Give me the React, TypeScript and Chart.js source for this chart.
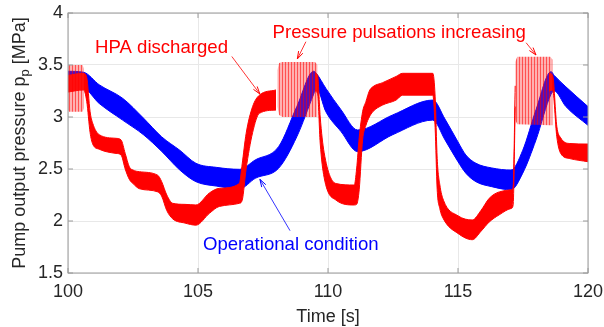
import React, { useEffect, useRef } from "react";
import { Chart, registerables } from "chart.js";
Chart.register(...registerables);

const xTicks = [100, 105, 110, 115, 120];
const yTicks = [1.5, 2, 2.5, 3, 3.5, 4];

// Operational condition (blue band)
const blueTime = [100.0, 100.6, 101.2, 102.1, 102.9, 103.6, 104.3, 104.92, 105.7, 106.6, 107.2, 108.1, 108.8, 109.45, 109.55, 109.92, 110.5, 111.14, 112.49, 114.03, 114.5, 115.0, 115.3, 115.69, 116.3, 117.04, 117.49, 118.0, 118.58, 118.7, 119.15, 120.0];
const blueUpper = [3.44, 3.43, 3.31, 3.18, 2.99, 2.81, 2.68, 2.555, 2.516, 2.497, 2.587, 2.715, 3.10, 3.44, 3.42, 3.275, 3.07, 2.875, 3.02, 3.163, 2.98, 2.76, 2.635, 2.555, 2.51, 2.49, 2.68, 3.07, 3.436, 3.40, 3.29, 3.10];
const blueLower = [3.25, 3.27, 3.13, 2.97, 2.83, 2.67, 2.49, 2.378, 2.336, 2.31, 2.41, 2.507, 2.81, 3.22, 3.28, 3.05, 2.86, 2.667, 2.83, 2.97, 2.78, 2.57, 2.46, 2.378, 2.33, 2.30, 2.46, 2.78, 3.22, 3.25, 3.10, 2.92];

// HPA discharged (red band); null = hidden under the pulsation envelope
const redTime = [100.0, 100.6, 100.72, 100.85, 100.95, 101.2, 101.85, 102.04, 102.2, 102.36, 102.5, 102.75, 103.45, 103.6, 103.8, 104.03, 104.5, 104.92, 105.44, 105.82, 106.59, 106.7, 106.85, 107.1, 107.36, 108.0, 108.8, 109.5, 109.6, 109.7, 109.85, 110.31, 111.01, 111.1, 111.2, 111.33, 111.46, 111.59, 111.72, 112.1, 112.62, 112.87, 114.03, 114.12, 114.2, 114.3, 114.44, 115.0, 115.55, 115.88, 116.2, 116.59, 117.04, 117.12, 117.2, 117.3, 118.5, 118.64, 118.8, 118.95, 119.3, 120.0];
const redUpper = [3.40, 3.42, 3.38, 3.05, 2.94, 2.83, 2.795, 2.78, 2.65, 2.52, 2.49, 2.474, 2.44, 2.38, 2.25, 2.17, 2.16, 2.154, 2.27, 2.314, 2.36, 2.55, 2.84, 3.10, 3.21, 3.26, null, 3.42, 3.40, 3.00, 2.66, 2.36, 2.346, 2.50, 2.80, 3.05, 3.15, 3.25, 3.29, 3.33, 3.39, 3.42, 3.42, 3.20, 2.60, 2.35, 2.20, 2.05, 2.01, 2.10, 2.218, 2.28, 2.30, 2.32, 3.30, null, 3.42, 3.40, 2.91, 2.80, 2.745, 2.74];
const redLower = [3.24, 3.26, 3.15, 2.85, 2.74, 2.69, 2.65, 2.635, 2.50, 2.40, 2.36, 2.31, 2.28, 2.24, 2.10, 2.02, 1.98, 1.96, 2.074, 2.14, 2.17, 2.20, 2.50, 2.85, 3.035, 3.067, null, 3.25, 3.22, 2.75, 2.42, 2.20, 2.154, 2.16, 2.30, 2.78, 2.92, 3.00, 3.05, 3.115, 3.163, 3.21, 3.21, 2.90, 2.30, 2.12, 2.02, 1.88, 1.82, 1.90, 1.99, 2.06, 2.12, 2.15, 3.10, null, 3.25, 3.26, 2.81, 2.65, 2.60, 2.57];

// Pressure pulsation envelopes
const puls1Time = [100.0, 100.04, 100.56, 100.62];
const puls1Top = [3.49, 3.50, 3.50, 3.46];
const puls1Bottom = [3.07, 3.05, 3.05, 3.09];
const puls2Time = [108.05, 108.12, 108.25, 109.5, 109.6];
const puls2Top = [3.45, 3.52, 3.53, 3.53, 3.50];
const puls2Bottom = [3.10, 3.02, 3.00, 3.00, 3.00];
const puls3Time = [117.2, 117.28, 118.55, 118.64];
const puls3Top = [3.53, 3.58, 3.58, 3.55];
const puls3Bottom = [2.97, 2.93, 2.92, 2.92];

const RED = "#ff0000";
const BLUE = "#0000ff";
const FONT = "'Liberation Sans', Arial, Helvetica, sans-serif";
const TEXT = "#262626";

const labels = [
  { text: "HPA discharged", x: 101.04, y: 3.618, color: RED },
  { text: "Pressure pulsations increasing", x: 107.87, y: 3.757, color: RED },
  { text: "Operational condition", x: 105.19, y: 1.721, color: BLUE },
];
const arrows = [
  { from: [106.3, 3.582], to: [107.38, 3.221], color: RED },
  { from: [109.15, 3.724], to: [108.82, 3.558], color: RED },
  { from: [117.62, 3.714], to: [118.0, 3.596], color: RED },
  { from: [108.54, 1.907], to: [107.38, 2.401], color: BLUE },
];

const pts = (t: number[], v: (number | null)[]) => t.map((x, i) => ({ x, y: v[i] }));

export default function App() {
  const ref = useRef<HTMLCanvasElement>(null);
  useEffect(() => {
    document.body.style.margin = "0";
    const canvas = ref.current!;
    const pc = document.createElement("canvas");
    pc.width = 3;
    pc.height = 4;
    const pctx = pc.getContext("2d")!;
    pctx.fillStyle = "rgba(255,40,40,0.36)";
    pctx.fillRect(0, 0, 3, 4);
    pctx.fillStyle = "rgba(255,0,0,0.55)";
    pctx.fillRect(0, 0, 1, 4);
    const pattern = canvas.getContext("2d")!.createPattern(pc, "repeat")!;

    const band = (t: number[], up: (number | null)[], lo: (number | null)[], color: string, order: number) => [
      {
        data: pts(t, up),
        borderColor: color,
        borderWidth: 1,
        pointRadius: 0,
        cubicInterpolationMode: "monotone",
        spanGaps: false,
        fill: false,
        order,
      },
      {
        data: pts(t, lo),
        borderColor: color,
        borderWidth: 1,
        pointRadius: 0,
        cubicInterpolationMode: "monotone",
        spanGaps: false,
        backgroundColor: color,
        fill: "-1",
        order,
      },
    ];
    const puls = (t: number[], up: number[], lo: number[]) => [
      { data: pts(t, up), borderWidth: 0, borderColor: "rgba(0,0,0,0)", pointRadius: 0, fill: false, order: 0 },
      { data: pts(t, lo), borderWidth: 0, borderColor: "rgba(0,0,0,0)", pointRadius: 0, backgroundColor: pattern, fill: "-1", order: 0 },
    ];

    const decor = {
      id: "decor",
      afterDraw(chart: any) {
        const { ctx, chartArea: a, scales } = chart;
        const xs = scales.x, ys = scales.y;
        ctx.save();
        ctx.strokeStyle = "#9a9a9a";
        ctx.lineWidth = 1;
        ctx.strokeRect(a.left, a.top, a.right - a.left, a.bottom - a.top);
        ctx.beginPath();
        xTicks.forEach((v) => {
          const px = xs.getPixelForValue(v);
          ctx.moveTo(px, a.bottom); ctx.lineTo(px, a.bottom - 5);
          ctx.moveTo(px, a.top); ctx.lineTo(px, a.top + 5);
        });
        yTicks.forEach((v) => {
          const py = ys.getPixelForValue(v);
          ctx.moveTo(a.left, py); ctx.lineTo(a.left + 5, py);
          ctx.moveTo(a.right, py); ctx.lineTo(a.right - 5, py);
        });
        ctx.stroke();
        ctx.fillStyle = TEXT;
        ctx.font = `18px ${FONT}`;
        ctx.textAlign = "center";
        ctx.textBaseline = "alphabetic";
        ctx.fillText("Time [s]", (a.left + a.right) / 2, 321.5);
        const p1 = "Pump output pressure p";
        const sub = "p";
        const p2 = " [MPa]";
        ctx.font = `18px ${FONT}`;
        const w1 = ctx.measureText(p1).width;
        const w3 = ctx.measureText(p2).width;
        ctx.font = `13px ${FONT}`;
        const w2 = ctx.measureText(sub).width;
        const total = w1 + w2 + w3;
        ctx.translate(25, (a.top + a.bottom) / 2);
        ctx.rotate(-Math.PI / 2);
        ctx.textAlign = "left";
        let sx = -total / 2;
        ctx.font = `18px ${FONT}`;
        ctx.fillText(p1, sx, 0);
        sx += w1;
        ctx.font = `13px ${FONT}`;
        ctx.fillText(sub, sx, 4);
        sx += w2;
        ctx.font = `18px ${FONT}`;
        ctx.fillText(p2, sx, 0);
        ctx.restore();

        ctx.save();
        ctx.font = `18.6px ${FONT}`;
        ctx.textAlign = "left";
        ctx.textBaseline = "alphabetic";
        labels.forEach((l) => {
          ctx.fillStyle = l.color;
          ctx.fillText(l.text, xs.getPixelForValue(l.x), ys.getPixelForValue(l.y));
        });
        arrows.forEach((ar) => {
          const x0 = xs.getPixelForValue(ar.from[0]), y0 = ys.getPixelForValue(ar.from[1]);
          const x1 = xs.getPixelForValue(ar.to[0]), y1 = ys.getPixelForValue(ar.to[1]);
          const ang = Math.atan2(y1 - y0, x1 - x0);
          ctx.strokeStyle = ar.color;
          ctx.fillStyle = ar.color;
          ctx.lineWidth = 0.8;
          ctx.beginPath();
          ctx.moveTo(x0, y0); ctx.lineTo(x1, y1);
          ctx.stroke();
          ctx.lineWidth = 1;
          ctx.beginPath();
          const L = 8, s = 0.3;
          ctx.moveTo(x1 - L * Math.cos(ang - s), y1 - L * Math.sin(ang - s));
          ctx.lineTo(x1, y1);
          ctx.lineTo(x1 - L * Math.cos(ang + s), y1 - L * Math.sin(ang + s));
          ctx.stroke();
        });
        ctx.restore();
      },
    };

    const chart = new Chart(canvas, {
      type: "line",
      data: {
        datasets: [
          ...puls(puls1Time, puls1Top, puls1Bottom),
          ...puls(puls2Time, puls2Top, puls2Bottom),
          ...puls(puls3Time, puls3Top, puls3Bottom),
          ...band(redTime, redUpper, redLower, RED, 1),
          ...band(blueTime, blueUpper, blueLower, BLUE, 2),
        ] as any,
      },
      options: {
        animation: false,
        responsive: false,
        events: [],
        layout: { padding: { left: 0, top: 13, right: 16, bottom: 0 } },
        plugins: { legend: { display: false }, tooltip: { enabled: false } },
        scales: {
          x: {
            type: "linear",
            min: 100,
            max: 120,
            afterBuildTicks: (s: any) => { s.ticks = xTicks.map((v) => ({ value: v })); },
            afterFit: (s: any) => { s.height = 54; s.paddingLeft = 0; s.paddingRight = 0; },
            ticks: { font: { family: FONT, size: 18 }, color: TEXT, padding: 8, callback: (v: any) => String(v), maxRotation: 0 },
            grid: { color: "#e8e8e8", drawTicks: false },
            border: { display: false },
          },
          y: {
            type: "linear",
            min: 1.5,
            max: 4,
            afterBuildTicks: (s: any) => { s.ticks = yTicks.map((v) => ({ value: v })); },
            afterFit: (s: any) => { s.width = 68; s.paddingTop = 0; s.paddingBottom = 0; },
            ticks: { font: { family: FONT, size: 18 }, color: TEXT, padding: 5, callback: (v: any) => String(v) },
            grid: { color: "#e8e8e8", drawTicks: false },
            border: { display: false },
          },
        },
      },
      plugins: [decor],
    });
    return () => chart.destroy();
  }, []);
  return <canvas ref={ref} width={604} height={327} style={{ display: "block" }} />;
}
